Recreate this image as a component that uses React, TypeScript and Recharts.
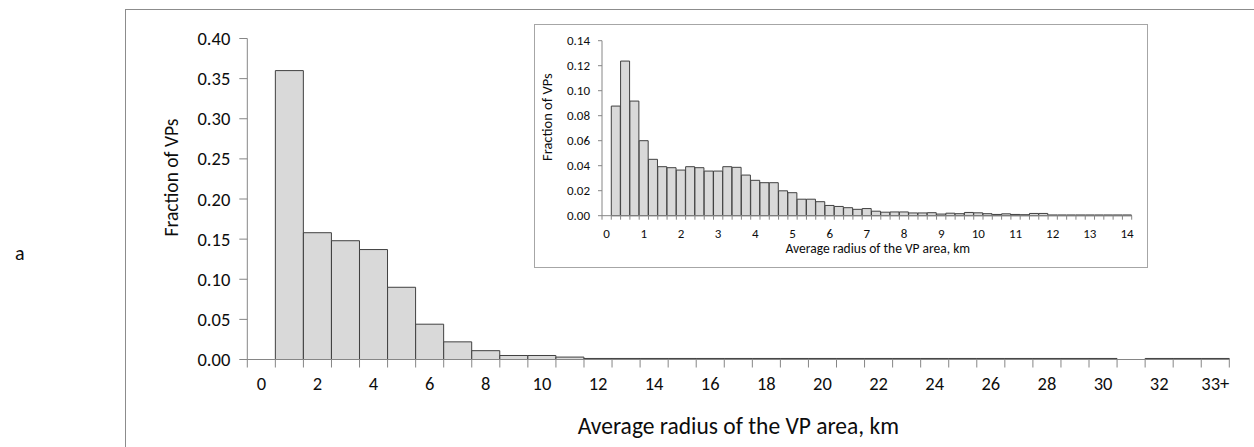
import React from 'react'
import { BarChart, Bar, XAxis, YAxis, Label } from 'recharts'

// main histogram: 1 km bins, last bin is 33+
const mainCategories = [
  '0', '1', '2', '3', '4', '5', '6', '7', '8', '9', '10', '11', '12', '13', '14', '15', '16', '17',
  '18', '19', '20', '21', '22', '23', '24', '25', '26', '27', '28', '29', '30', '31', '32', '33', '33+',
]
const mainFractions = [
  0, 0.36, 0.158, 0.148, 0.137, 0.09, 0.044, 0.022, 0.011, 0.005, 0.005, 0.003,
  0.0013, 0.0013, 0.0013, 0.0013, 0.0013, 0.0013, 0.0013, 0.0013, 0.0013, 0.0013,
  0.0013, 0.0013, 0.0013, 0.0013, 0.0013, 0.0013, 0.0013, 0.0013, 0.0013,
  0, 0.0013, 0.0013, 0.0013,
]
const mainYTicks = [0, 0.05, 0.1, 0.15, 0.2, 0.25, 0.3, 0.35, 0.4]

// inset histogram: 0.25 km bins up to 14 km
const insetCategories = [
  '0', '0.25', '0.5', '0.75', '1', '1.25', '1.5', '1.75', '2', '2.25', '2.5', '2.75',
  '3', '3.25', '3.5', '3.75', '4', '4.25', '4.5', '4.75', '5', '5.25', '5.5', '5.75',
  '6', '6.25', '6.5', '6.75', '7', '7.25', '7.5', '7.75', '8', '8.25', '8.5', '8.75',
  '9', '9.25', '9.5', '9.75', '10', '10.25', '10.5', '10.75', '11', '11.25', '11.5', '11.75',
  '12', '12.25', '12.5', '12.75', '13', '13.25', '13.5', '13.75', '14',
]
const insetFractions = [
  0, 0.0877, 0.1237, 0.0917, 0.06, 0.0451, 0.0392, 0.0384, 0.0365, 0.0392, 0.0384, 0.0357,
  0.0357, 0.0392, 0.0387, 0.0325, 0.0283, 0.0264, 0.0264, 0.0199, 0.0184, 0.0132, 0.0132, 0.0112,
  0.0082, 0.0074, 0.0064, 0.0051, 0.0057, 0.0036, 0.0028, 0.003, 0.003, 0.0022, 0.0022, 0.0024,
  0.0013, 0.002, 0.0016, 0.0026, 0.0023, 0.0016, 0.001, 0.0015, 0.001, 0.0008, 0.0018, 0.0018,
  0.0006, 0.0006, 0.0006, 0.0006, 0.0006, 0.0006, 0.0006, 0.0006, 0.0006,
]
const insetYTicks = [0, 0.02, 0.04, 0.06, 0.08, 0.1, 0.12, 0.14]

const mainData = mainCategories.map((c, i) => ({ bin: c, value: mainFractions[i] }))
const insetData = insetCategories.map((c, i) => ({ bin: c, value: insetFractions[i] }))

const FONT = 'Carlito, Calibri, Lato, sans-serif'
const TEXT = '#0d0d0d'
const AXIS = '#868686'
const BAR_FILL = '#d9d9d9'
const BAR_EDGE = '#404040'

const MAIN_TICK_SIZE = 8
const MAIN_TICK_MARGIN = 4
const INSET_TICK_SIZE = 4
const INSET_TICK_MARGIN = 4

// excel style category ticks: marks on bin edges, label in the middle of every other bin
function MainXTick(props: any) {
  const { x, y, payload, index, visibleTicksCount } = props
  const half = payload?.offset ?? 14
  const axisY = y - MAIN_TICK_SIZE - MAIN_TICK_MARGIN
  return (
    <g>
      <line x1={x - half} x2={x - half} y1={axisY} y2={axisY + MAIN_TICK_SIZE} stroke={AXIS} />
      {index === visibleTicksCount - 1 && (
        <line x1={x + half} x2={x + half} y1={axisY} y2={axisY + MAIN_TICK_SIZE} stroke={AXIS} />
      )}
      {index % 2 === 0 && (
        <text x={x} y={axisY + 30} textAnchor="middle" fontSize={18.5} fontFamily={FONT} fill={TEXT}>
          {payload.value}
        </text>
      )}
    </g>
  )
}

function InsetXTick(props: any) {
  const { x, y, payload, index, visibleTicksCount } = props
  const half = payload?.offset ?? 4.6
  const axisY = y - INSET_TICK_SIZE - INSET_TICK_MARGIN
  return (
    <g>
      <line x1={x - half} x2={x - half} y1={axisY} y2={axisY + INSET_TICK_SIZE} stroke={AXIS} />
      {index === visibleTicksCount - 1 && (
        <line x1={x + half} x2={x + half} y1={axisY} y2={axisY + INSET_TICK_SIZE} stroke={AXIS} />
      )}
      {index % 4 === 0 && (
        <text x={x} y={axisY + 22} textAnchor="middle" fontSize={13} fontFamily={FONT} fill={TEXT}>
          {String(Math.round(Number(payload.value)))}
        </text>
      )}
    </g>
  )
}

export default function App() {
  return (
    <div
      style={{
        position: 'absolute',
        left: 0,
        top: 0,
        width: 1254,
        height: 447,
        overflow: 'hidden',
        background: '#fff',
        fontFamily: FONT,
      }}
    >
      <div
        style={{
          position: 'absolute',
          left: 125,
          top: 9,
          width: 1200,
          height: 500,
          border: '1px solid #8c8c8c',
        }}
      />
      <div
        style={{
          position: 'absolute',
          left: 15,
          top: 241,
          fontSize: 20,
          color: TEXT,
          fontFamily: FONT,
        }}
      >
        a
      </div>

      <div style={{ position: 'absolute', left: 0, top: 0 }}>
        <BarChart
          width={1254}
          height={447}
          data={mainData}
          barCategoryGap={0}
          barGap={0}
          margin={{ top: 38.5, right: 24.7, left: 0, bottom: 57.5 }}
        >
          <XAxis
            dataKey="bin"
            height={30}
            interval={0}
            stroke={AXIS}
            tickLine={false}
            tickSize={MAIN_TICK_SIZE}
            tickMargin={MAIN_TICK_MARGIN}
            tick={<MainXTick />}
          >
            <Label
              content={(p: any) => {
                const vb = p.viewBox
                return (
                  <text
                    x={vb.x + vb.width / 2}
                    y={vb.y + 74}
                    textAnchor="middle"
                    fontSize={23.5}
                    fontFamily={FONT}
                    fill={TEXT}
                  >
                    Average radius of the VP area, km
                  </text>
                )
              }}
            />
          </XAxis>
          <YAxis
            width={247.3}
            domain={[0, 0.4]}
            ticks={mainYTicks}
            interval={0}
            stroke={AXIS}
            tickSize={MAIN_TICK_SIZE}
            tickMargin={9}
            tickFormatter={(v: number) => v.toFixed(2)}
            tick={{ fontSize: 18.5, fill: TEXT, fontFamily: FONT }}
          >
            <Label
              content={(p: any) => {
                const vb = p.viewBox
                const cx = vb.x + vb.width - 76
                const cy = vb.y + vb.height / 2 - 21.5
                return (
                  <text
                    x={cx}
                    y={cy}
                    transform={`rotate(-90 ${cx} ${cy})`}
                    textAnchor="middle"
                    dominantBaseline="central"
                    fontSize={19.5}
                    fontFamily={FONT}
                    fill={TEXT}
                  >
                    Fraction of VPs
                  </text>
                )
              }}
            />
          </YAxis>
          <Bar dataKey="value" fill={BAR_FILL} stroke={BAR_EDGE} strokeWidth={1} isAnimationActive={false} />
        </BarChart>
      </div>

      <div
        style={{
          position: 'absolute',
          left: 534,
          top: 24,
          width: 614,
          height: 244,
          boxSizing: 'border-box',
          border: '1px solid #a6a6a6',
          background: '#fff',
        }}
      >
        <div style={{ position: 'absolute', left: -1, top: -1 }}>
          <BarChart
            width={614}
            height={244}
            data={insetData}
            barCategoryGap={0}
            barGap={0}
            margin={{ top: 16.7, right: 16.3, left: 0, bottom: 32.3 }}
          >
            <XAxis
              dataKey="bin"
              height={20}
              interval={0}
              stroke={AXIS}
              tickLine={false}
              tickSize={INSET_TICK_SIZE}
              tickMargin={INSET_TICK_MARGIN}
              tick={<InsetXTick />}
            >
              <Label
                content={(p: any) => {
                  const vb = p.viewBox
                  return (
                    <text
                      x={vb.x + vb.width / 2 + 11}
                      y={vb.y + 37}
                      textAnchor="middle"
                      fontSize={13.5}
                      fontFamily={FONT}
                      fill={TEXT}
                    >
                      Average radius of the VP area, km
                    </text>
                  )
                }}
              />
            </XAxis>
            <YAxis
              width={68}
              domain={[0, 0.14]}
              ticks={insetYTicks}
              interval={0}
              stroke={AXIS}
              tickSize={INSET_TICK_SIZE}
              tickMargin={8}
              tickFormatter={(v: number) => v.toFixed(2)}
              tick={{ fontSize: 13, fill: TEXT, fontFamily: FONT }}
            >
              <Label
                content={(p: any) => {
                  const vb = p.viewBox
                  const cx = vb.x + 13
                  const cy = vb.y + vb.height / 2 - 11
                  return (
                    <text
                      x={cx}
                      y={cy}
                      transform={`rotate(-90 ${cx} ${cy})`}
                      textAnchor="middle"
                      dominantBaseline="central"
                      fontSize={14.5}
                      fontFamily={FONT}
                      fill={TEXT}
                    >
                      Fraction of VPs
                    </text>
                  )
                }}
              />
            </YAxis>
            <Bar dataKey="value" fill={BAR_FILL} stroke={BAR_EDGE} strokeWidth={1} isAnimationActive={false} />
          </BarChart>
        </div>
      </div>
    </div>
  )
}
